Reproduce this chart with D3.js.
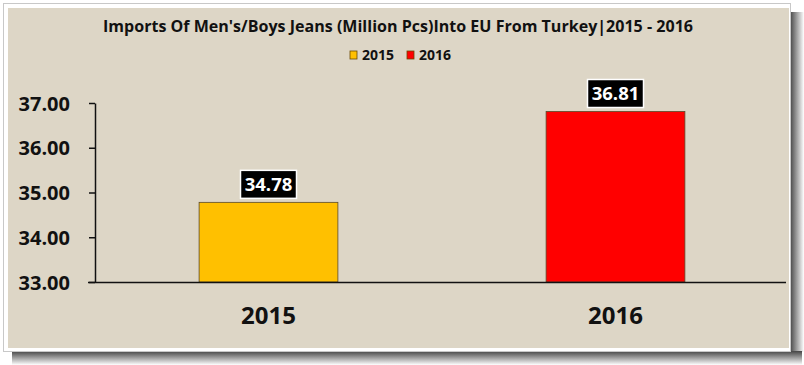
<!DOCTYPE html>
<html><head><meta charset="utf-8">
<script src="https://cdn.jsdelivr.net/npm/d3@7"></script>
<style>body{margin:0;background:#fff;}svg{display:block;}</style>
</head><body>
<svg id="c" width="804" height="365"></svg>
<script>
const categories = ["2015", "2016"];
const values = [34.78, 36.81];
const barColors = ["#FFC000", "#FF0000"];
const yTicks = [33, 34, 35, 36, 37];
const title = "Imports Of Men's/Boys Jeans (Million Pcs)Into EU From Turkey|2015 - 2016";

const svg = d3.select("#c");
const font = "'Open Sans', 'DejaVu Sans', sans-serif";

// frame + shadow
const defs = svg.append("defs");
const gr = defs.append("linearGradient").attr("id","shr").attr("x1",0).attr("x2",1).attr("y1",0).attr("y2",0);
gr.append("stop").attr("offset",0).attr("stop-color","#444");
gr.append("stop").attr("offset",1).attr("stop-color","#fff");
const gb = defs.append("linearGradient").attr("id","shb").attr("x1",0).attr("x2",0).attr("y1",0).attr("y2",1);
gb.append("stop").attr("offset",0).attr("stop-color","#444");
gb.append("stop").attr("offset",1).attr("stop-color","#fff");
svg.append("rect").attr("x",790).attr("y",12).attr("width",14).attr("height",340).attr("fill","url(#shr)");
svg.append("rect").attr("x",12).attr("y",351).attr("width",790).attr("height",14).attr("fill","url(#shb)");
svg.append("rect").attr("x",3.5).attr("y",3.5).attr("width",787).attr("height",348).attr("fill","#fff").attr("stroke","#c8c8c8");
svg.append("rect").attr("x",8).attr("y",8).attr("width",781).attr("height",340).attr("fill","#ddd6c6");

const x = d3.scaleBand().domain(categories).range([95, 789]).paddingInner(0.6).paddingOuter(0.3);
const y = d3.scaleLinear().domain([33, 37]).range([282, 103]);

// title
svg.append("text").attr("x", 398).attr("y", 32).attr("text-anchor","middle")
  .attr("font-family", font).attr("font-weight","bold").attr("font-size", 15.5).attr("fill","#111")
  .attr("textLength", 590).attr("lengthAdjust","spacingAndGlyphs")
  .text(title);

// legend
const legX = [350, 407];
categories.forEach((c,i)=>{
  svg.append("rect").attr("x", legX[i]).attr("y", 51).attr("width",7).attr("height",8)
    .attr("fill", barColors[i]).attr("stroke","#6a4a00").attr("stroke-width",0.8);
  svg.append("text").attr("x", legX[i]+12).attr("y", 59.5).attr("font-family", font).attr("font-weight","bold")
    .attr("font-size", 13.5).attr("fill","#111").attr("textLength",32).attr("lengthAdjust","spacingAndGlyphs").text(c);
});

// bars
svg.selectAll("rect.bar").data(values).enter().append("rect").attr("class","bar")
  .attr("x",(d,i)=>x(categories[i])).attr("width", x.bandwidth())
  .attr("y", d=>y(d)).attr("height", d=>y(33)-y(d))
  .attr("fill",(d,i)=>barColors[i]).attr("stroke","#5a4a2a").attr("stroke-width",0.8);

// y axis
const yAxis = svg.append("g").attr("transform","translate(95,0)")
  .call(d3.axisLeft(y).tickValues(yTicks).tickFormat(d3.format(".2f")).tickSize(6).tickSizeOuter(0));
yAxis.select(".domain").attr("stroke","#111").attr("stroke-width",1.5);
yAxis.selectAll(".tick line").attr("stroke","#111").attr("stroke-width",1.5);
yAxis.selectAll(".tick text").attr("x",-25).attr("font-family",font).attr("font-weight","bold")
  .attr("font-size",20).attr("fill","#111").attr("dy","0.35em");

// x axis
const xAxis = svg.append("g").attr("transform","translate(0,282)")
  .call(d3.axisBottom(x).tickSize(0).tickSizeOuter(0));
xAxis.select(".domain").attr("d","M88,0.5H786").attr("stroke","#111").attr("stroke-width",1.5);
xAxis.selectAll(".tick text").attr("y",34).attr("font-family",font).attr("font-weight","bold")
  .attr("font-size",24).attr("fill","#111").attr("dy","0.35em");

// data labels
values.forEach((v,i)=>{
  const cx = x(categories[i]) + x.bandwidth()/2;
  const top = y(v);
  svg.append("rect").attr("x", cx-28).attr("y", top-32).attr("width",56).attr("height",28)
    .attr("fill","#000").attr("stroke","#fff").attr("stroke-width",1.5);
  svg.append("text").attr("x", cx).attr("y", top-18).attr("dy","0.35em").attr("text-anchor","middle")
    .attr("font-family",font).attr("font-weight","bold").attr("font-size",18.5).attr("fill","#fff")
    .text(d3.format(".2f")(v));
});
</script>
</body></html>
